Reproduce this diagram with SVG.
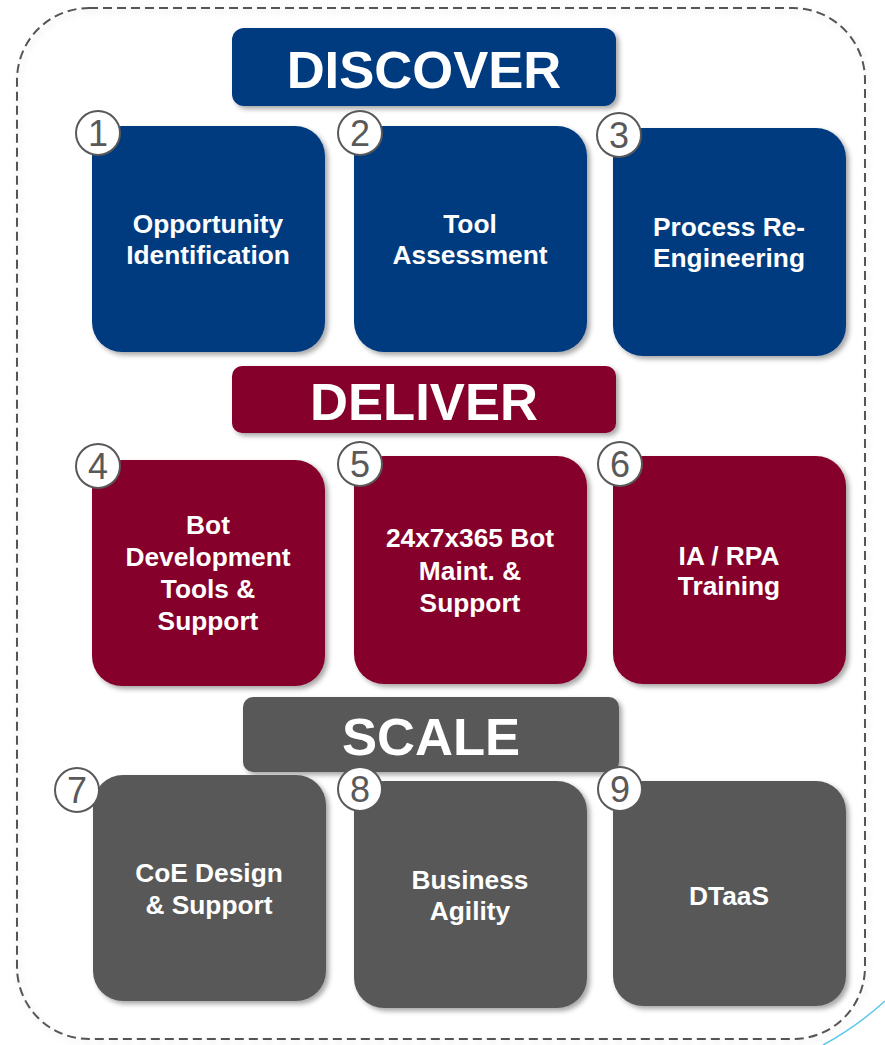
<svg xmlns="http://www.w3.org/2000/svg" width="885" height="1045" viewBox="0 0 885 1045">
<defs>
<filter id="sh" x="-10%" y="-10%" width="130%" height="130%">
<feDropShadow dx="3" dy="3" stdDeviation="2.5" flood-color="#000" flood-opacity="0.35"/>
</filter>
<filter id="sh2" x="-10%" y="-10%" width="120%" height="120%">
<feDropShadow dx="2" dy="3" stdDeviation="3" flood-color="#000" flood-opacity="0.12"/>
</filter>
<style>
.blue{fill:#003A80}
.red{fill:#85052B}
.gray{fill:#595959}
.box{filter:url(#sh)}
.t{font-family:"Liberation Sans",Arial,sans-serif;font-weight:bold;fill:#fff;text-anchor:middle;font-size:26.3px}
.h{font-family:"Liberation Sans",Arial,sans-serif;font-weight:bold;fill:#fff;text-anchor:middle;font-size:52.6px}
.num circle{fill:#fff;stroke:#595959;stroke-width:2}
.num text{font-family:"Liberation Sans",Arial,sans-serif;fill:#595959;text-anchor:middle;font-size:36px}
</style>
</defs>
<rect width="885" height="1045" fill="#fff"/>
<rect x="17" y="8" width="848" height="1031" rx="72" fill="none" stroke="#555" stroke-width="2" stroke-dasharray="9,5" filter="url(#sh2)"/>
<g id="connectors">
<path d="M823,1045 Q855,1028 885,1001" fill="none" stroke="#5EC8EA" stroke-width="1.5"/>
</g>
<g id="discover">
<rect class="blue box" x="232" y="28" width="384" height="78" rx="12"/>
<text class="h" x="424" y="88">DISCOVER</text>
</g>
<g id="n1">
<rect class="blue box" x="92" y="126" width="233" height="226" rx="30"/>
<text class="t" x="208" y="233">Opportunity</text>
<text class="t" x="208" y="264">Identification</text>
<g class="num"><circle cx="98" cy="133" r="22"/><text x="98" y="146">1</text></g>
</g>
<g id="n2">
<rect class="blue box" x="354" y="126" width="233" height="226" rx="30"/>
<text class="t" x="470" y="233">Tool</text>
<text class="t" x="470" y="264">Assessment</text>
<g class="num"><circle cx="360" cy="133" r="22"/><text x="360" y="146">2</text></g>
</g>
<g id="n3">
<rect class="blue box" x="613" y="128" width="233" height="228" rx="30"/>
<text class="t" x="729" y="236">Process Re-</text>
<text class="t" x="729" y="267">Engineering</text>
<g class="num"><circle cx="619" cy="135" r="22"/><text x="619" y="148">3</text></g>
</g>
<g id="deliver">
<rect class="red box" x="232" y="366" width="384" height="67" rx="10"/>
<text class="h" x="424" y="420">DELIVER</text>
</g>
<g id="n4">
<rect class="red box" x="92" y="460" width="233" height="226" rx="30"/>
<text class="t" x="208" y="534">Bot</text>
<text class="t" x="208" y="566">Development</text>
<text class="t" x="208" y="598">Tools &amp;</text>
<text class="t" x="208" y="630">Support</text>
<g class="num"><circle cx="98" cy="466" r="22"/><text x="98" y="479">4</text></g>
</g>
<g id="n5">
<rect class="red box" x="354" y="456" width="233" height="228" rx="30"/>
<text class="t" x="470" y="547">24x7x365 Bot</text>
<text class="t" x="470" y="580">Maint. &amp;</text>
<text class="t" x="470" y="612">Support</text>
<g class="num"><circle cx="360" cy="464" r="22"/><text x="360" y="477">5</text></g>
</g>
<g id="n6">
<rect class="red box" x="613" y="456" width="233" height="228" rx="30"/>
<text class="t" x="729" y="565">IA / RPA</text>
<text class="t" x="729" y="595">Training</text>
<g class="num"><circle cx="620" cy="464" r="22"/><text x="620" y="477">6</text></g>
</g>
<g id="scale">
<rect class="gray box" x="243" y="697" width="376" height="75" rx="10"/>
<text class="h" x="431" y="755">SCALE</text>
</g>
<g id="n7">
<rect class="gray box" x="93" y="775" width="233" height="226" rx="30"/>
<text class="t" x="209" y="882">CoE Design</text>
<text class="t" x="209" y="914">&amp; Support</text>
<g class="num"><circle cx="77" cy="790" r="22"/><text x="77" y="803">7</text></g>
</g>
<g id="n8">
<rect class="gray box" x="354" y="781" width="233" height="227" rx="30"/>
<text class="t" x="470" y="889">Business</text>
<text class="t" x="470" y="920">Agility</text>
<g class="num"><circle cx="360" cy="789" r="22"/><text x="360" y="802">8</text></g>
</g>
<g id="n9">
<rect class="gray box" x="613" y="781" width="233" height="225" rx="30"/>
<text class="t" x="729" y="905">DTaaS</text>
<g class="num"><circle cx="620" cy="789" r="22"/><text x="620" y="802">9</text></g>
</g>
</svg>
